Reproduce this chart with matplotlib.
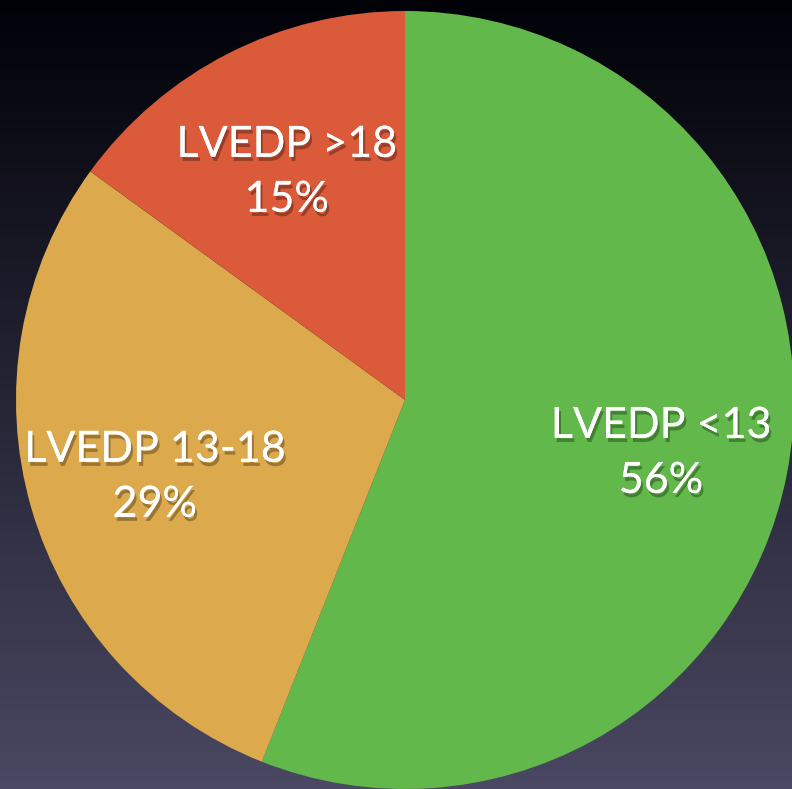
import numpy as np
import matplotlib
matplotlib.use("Agg")
import matplotlib.pyplot as plt
import matplotlib.patheffects as pe

# LVEDP distribution
categories = ["LVEDP <13", "LVEDP 13-18", "LVEDP >18"]
shares = [56, 29, 15]
colors = ["#62b84a", "#dcaa4c", "#da5a3a"]

W, H, DPI = 792, 789, 100
fig = plt.figure(figsize=(W / DPI, H / DPI), dpi=DPI)

# dark navy to slate background
bg = fig.add_axes([0, 0, 1, 1], zorder=0)
top = np.array([1, 1, 8]) / 255
bottom = np.array([74, 72, 98]) / 255
t = np.linspace(0, 1, 256)[:, None]
grad = top + (bottom - top) * t
bg.imshow(np.repeat(grad[:, None, :], 2, axis=1), aspect="auto", extent=[0, 1, 0, 1])
bg.axis("off")

# pie centred at (405, 400) px with radius 389 px
cx, cy, r = 405, 400, 389
ax = fig.add_axes([(cx - r) / W, (H - cy - r) / H, 2 * r / W, 2 * r / H], zorder=1)
wedges, _ = ax.pie(shares, colors=colors, startangle=90, counterclock=False,
                   radius=1, wedgeprops=dict(linewidth=0))
ax.set_xlim(-1, 1)
ax.set_ylim(-1, 1)
ax.set_aspect("equal")
ax.axis("off")

shadow = [pe.withSimplePatchShadow(offset=(1.5, -3), shadow_rgbFace="black", alpha=0.3),
          pe.Normal()]
style = dict(ha="center", va="baseline", color="white", fontsize=31, family="Lato",
             textcoords="offset pixels", path_effects=shadow)
for w, name, pct in zip(wedges, categories, shares):
    mid = np.deg2rad((w.theta1 + w.theta2) / 2)
    xy = (0.67 * np.cos(mid), 0.67 * np.sin(mid))
    ax.annotate(name, xy, xytext=(0, 11), **style)
    ax.annotate(f"{pct}%", xy, xytext=(0, -44), **style)

fig.savefig("out.png", dpi=DPI)
